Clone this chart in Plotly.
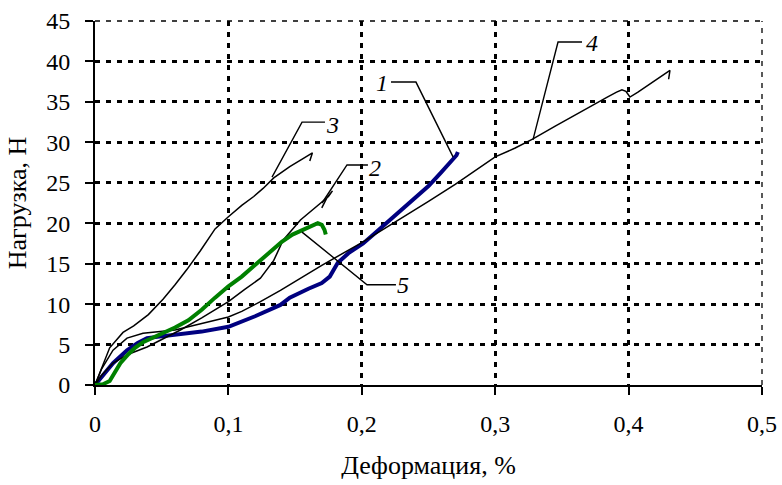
import plotly.graph_objects as go

# ---------------- data ----------------
x_ticks = [0, 0.1, 0.2, 0.3, 0.4, 0.5]
x_tick_text = ["0", "0,1", "0,2", "0,3", "0,4", "0,5"]
y_ticks = [0, 5, 10, 15, 20, 25, 30, 35, 40, 45]
y_tick_text = [str(v) for v in y_ticks]

c1_x = [0, 0.006, 0.0135, 0.024, 0.032, 0.039, 0.05, 0.064, 0.08, 0.1, 0.12, 0.139, 0.146,
        0.16, 0.17, 0.176, 0.182, 0.19, 0.201, 0.21, 0.221, 0.231, 0.241, 0.25, 0.259,
        0.265, 0.271, 0.272]
c1_y = [0, 1.2, 2.7, 4.3, 5.2, 5.8, 6.0, 6.2, 6.6, 7.2, 8.5, 9.9, 10.8,
        11.9, 12.6, 13.4, 15.1, 16.3, 17.5, 18.8, 20.4, 21.8, 23.3, 24.6, 26.2,
        27.3, 28.4, 28.8]

c2_x = [0, 0.005, 0.0135, 0.025, 0.039, 0.05, 0.064, 0.08, 0.1, 0.112, 0.124, 0.134,
        0.141, 0.154, 0.169, 0.175, 0.178, 0.174, 0.17]
c2_y = [0, 1.2, 2.7, 3.8, 4.7, 5.6, 6.8, 8.3, 10.3, 11.8, 13.2, 15.4,
        17.9, 20.4, 22.5, 23.3, 24.0, 23.2, 21.9]

c3_x = [0, 0.005, 0.011, 0.021, 0.029, 0.04, 0.051, 0.06, 0.069, 0.079, 0.09, 0.1,
        0.11, 0.119, 0.126, 0.134, 0.146, 0.155, 0.161, 0.163, 0.161]
c3_y = [0, 2.2, 4.6, 6.5, 7.3, 8.7, 10.6, 12.4, 14.3, 16.6, 19.3, 20.8,
        22.2, 23.3, 24.3, 25.6, 27.0, 27.9, 28.5, 28.7, 27.7]

c4_x = [0, 0.005, 0.0135, 0.024, 0.036, 0.051, 0.06, 0.07, 0.08, 0.09, 0.1, 0.11,
        0.124, 0.139, 0.15, 0.17, 0.2, 0.22, 0.25, 0.27, 0.289, 0.3, 0.315, 0.328,
        0.345, 0.361, 0.375, 0.384, 0.391, 0.395, 0.398, 0.401, 0.407, 0.414, 0.42,
        0.429, 0.431, 0.43]
c4_y = [0, 2.0, 4.3, 5.8, 6.4, 6.6, 6.8, 7.2, 7.6, 8.0, 8.4, 9.1,
        10.3, 11.7, 12.8, 14.8, 17.6, 19.6, 22.7, 24.8, 26.9, 28.2, 29.3, 30.4,
        32.0, 33.5, 34.8, 35.6, 36.2, 36.5, 36.3, 35.6, 36.2, 37.0, 37.6,
        38.7, 38.9, 37.8]

c5_x = [0, 0.006, 0.011, 0.015, 0.019, 0.025, 0.03, 0.036, 0.043, 0.05, 0.06, 0.07,
        0.08, 0.09, 0.1, 0.11, 0.12, 0.13, 0.14, 0.148, 0.156, 0.162, 0.167, 0.17,
        0.172, 0.173]
c5_y = [0, 0.1, 0.5, 1.6, 2.7, 3.8, 4.6, 5.3, 5.8, 6.3, 7.1, 8.0,
        9.3, 10.8, 12.2, 13.4, 14.8, 16.3, 17.7, 18.6, 19.2, 19.7, 20.0, 19.8,
        19.2, 18.6]

series = [
    ("1", c1_x, c1_y, "#000080", 4),
    ("2", c2_x, c2_y, "#000000", 1.5),
    ("3", c3_x, c3_y, "#000000", 1.5),
    ("4", c4_x, c4_y, "#000000", 1.5),
    ("5", c5_x, c5_y, "#008000", 4),
]

# label text position and leader polyline (text end -> bend -> curve point)
labels = [
    ("1", (0.2151, 37.3), [(0.2219, 37.45), (0.2406, 37.45), (0.2684, 28.2)]),
    ("2", (0.2099, 26.8), [(0.2046, 27.2), (0.1889, 27.2), (0.1702, 22.5)]),
    ("3", (0.1784, 32.1), [(0.1724, 32.5), (0.1552, 32.5), (0.1327, 25.7)]),
    ("4", (0.3726, 42.3), [(0.3651, 42.4), (0.3471, 42.4), (0.3283, 30.3)]),
    ("5", (0.2309, 12.4), [(0.2256, 12.4), (0.2039, 12.4), (0.1552, 18.9)]),
]

FONT = "Liberation Serif, Times New Roman, serif"

fig = go.Figure()

for name, xs, ys, col, w in series:
    fig.add_trace(go.Scatter(x=xs, y=ys, mode="lines", name=name,
                             line=dict(color=col, width=w), showlegend=False))

for txt, (tx, ty), pts in labels:
    fig.add_trace(go.Scatter(x=[p[0] for p in pts], y=[p[1] for p in pts], mode="lines",
                             line=dict(color="black", width=1.4), showlegend=False,
                             hoverinfo="skip"))
    fig.add_annotation(x=tx, y=ty, text="<i>" + txt + "</i>", showarrow=False,
                       font=dict(family=FONT, size=24, color="black"))

# thin dashed top and right frame
fig.add_shape(type="line", xref="x domain", yref="y domain", x0=0, x1=1, y0=1, y1=1,
              line=dict(color="black", width=1.3, dash="5px,6px"))
fig.add_shape(type="line", xref="x domain", yref="y domain", x0=1, x1=1, y0=0, y1=1,
              line=dict(color="black", width=1.3, dash="5px,6px"))

fig.update_xaxes(range=[0, 0.5], tickvals=x_ticks, ticktext=x_tick_text,
                 showgrid=False, zeroline=False, showline=True, linecolor="black",
                 linewidth=2, ticks="outside", ticklen=8, tickwidth=2, tickcolor="black",
                 ticklabelstandoff=8, automargin=False,
                 tickfont=dict(family=FONT, size=24, color="black"),
                 minor=dict(tickvals=[0.1, 0.2, 0.3, 0.4], showgrid=True, gridcolor="black",
                            gridwidth=3, griddash="5px,6px", ticks=""),
                 title=dict(text="Деформация, %", font=dict(family=FONT, size=26, color="black"),
                            standoff=20))
fig.update_yaxes(range=[0, 45], tickvals=y_ticks, ticktext=y_tick_text,
                 showgrid=False, zeroline=False, showline=True, linecolor="black",
                 linewidth=2, ticks="outside", ticklen=8, tickwidth=2, tickcolor="black",
                 ticklabelstandoff=10, automargin=False,
                 tickfont=dict(family=FONT, size=24, color="black"),
                 minor=dict(tickvals=[5, 10, 15, 20, 25, 30, 35, 40], showgrid=True,
                            gridcolor="black", gridwidth=3, griddash="5px,6px", ticks=""),
                 title=dict(text="Нагрузка, Н", font=dict(family=FONT, size=26, color="black"),
                            standoff=12))

fig.update_layout(width=782, height=485, margin=dict(l=95, r=20, t=21, b=100),
                  plot_bgcolor="white", paper_bgcolor="white", showlegend=False)

fig.write_html("out.html")
